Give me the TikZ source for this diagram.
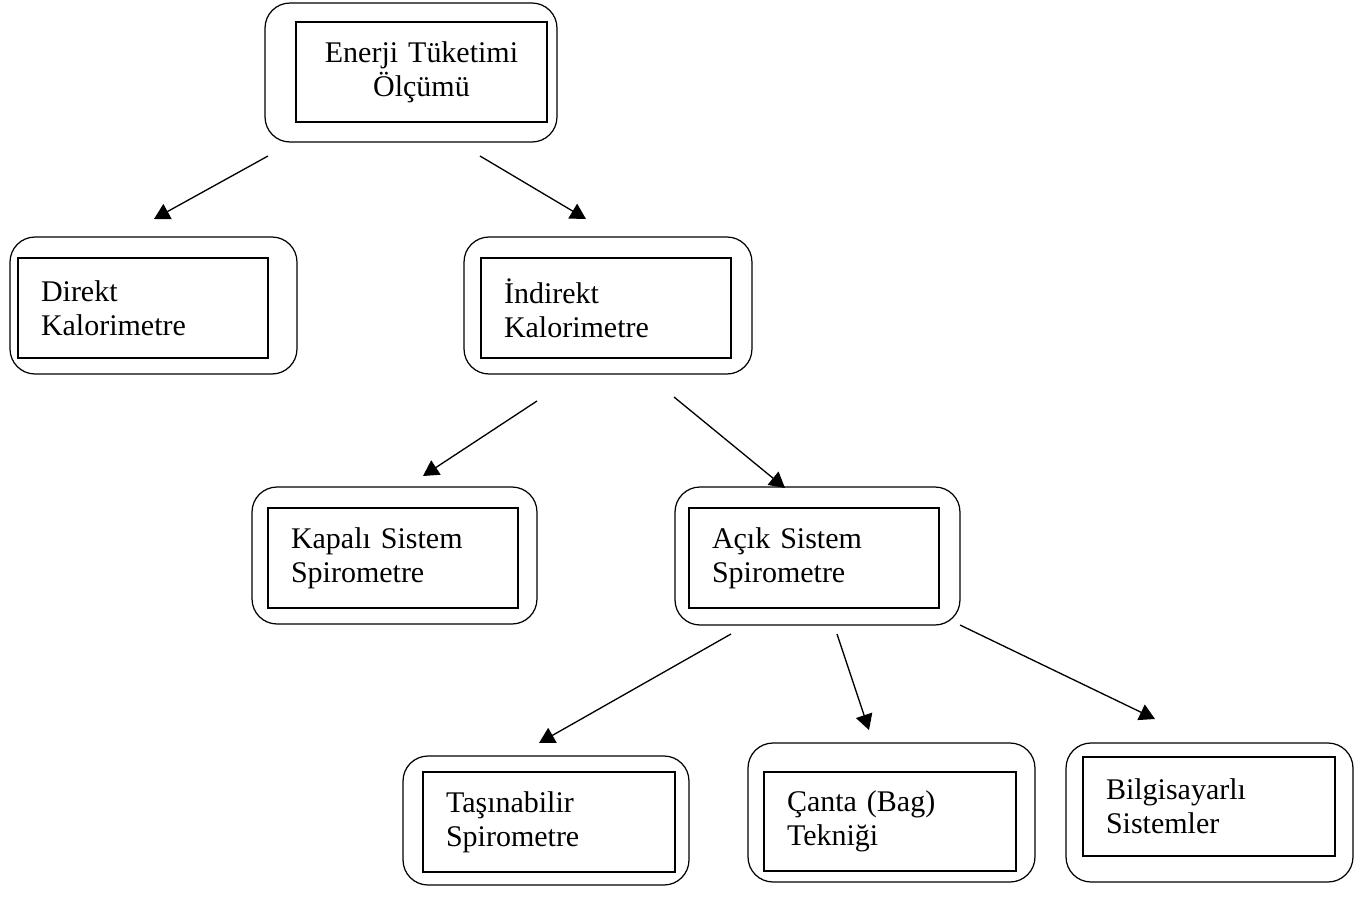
\documentclass[tikz,border=0pt]{standalone}
\usepackage{fontspec}
\setmainfont{Liberation Serif}
\usetikzlibrary{arrows.meta}
\tikzset{
    % Outer frame with rounded corners
    frame/.style={
        rectangle,
        draw=black,
        line width=0.7pt,
        rounded corners=0.5cm,
        minimum width=5.74cm,
        minimum height=2.74cm
    },
    % Inner box holding the text
    label box/.style={
        rectangle,
        draw=black,
        line width=0.9pt,
        text width=4.08cm,
        inner xsep=0.46cm,
        inner ysep=0pt,
        minimum height=2cm,
        align=left,
        font=\fontsize{17.07pt}{19.35pt}\selectfont
    },
    arrow style/.style={
        -{Triangle[length=0.31cm,width=0.34cm]},
        line width=0.75pt,
        black
    }
}

\begin{document}
\begin{tikzpicture}[x=0.02cm, y=-0.02cm]
        \useasboundingbox (0,0) rectangle (1359,896);

        % Top
        \node[frame, minimum width=5.84cm, minimum height=2.78cm] (enerjiOut) at (411,72.5) {};
        \node[label box, align=center, text width=4.1cm] (enerji) at (421.5,72) {Enerji Tüketimi\\Ölçümü};

        % Level 2
        \node[frame] (direktOut) at (153.5,305.5) {};
        \node[label box] (direkt) at (143,308) {Direkt\\Kalorimetre};

        \node[frame, minimum width=5.76cm] (indirektOut) at (608,305.5) {};
        \node[label box] (indirekt) at (606,308) {İndirekt\\Kalorimetre};

        % Level 3
        \node[frame, minimum width=5.7cm] (kapaliOut) at (394.5,555.5) {};
        \node[label box] (kapali) at (393,558) {Kapalı Sistem\\Spirometre};

        \node[frame, minimum width=5.7cm, minimum height=2.76cm] (acikOut) at (817.5,556) {};
        \node[label box] (acik) at (814,558) {Açık Sistem\\Spirometre};

        % Level 4
        \node[frame, minimum width=5.72cm, minimum height=2.58cm] (tasinabilirOut) at (546,820.5) {};
        \node[label box, text width=4.12cm] (tasinabilir) at (549,822) {Taşınabilir\\Spirometre};

        \node[frame, minimum height=2.78cm] (cantaOut) at (891.5,812.5) {};
        \node[label box, text width=4.12cm, minimum height=1.98cm] (canta) at (890,821.5) {Çanta (Bag)\\Tekniği};

        \node[frame, minimum height=2.78cm] (bilgisayarOut) at (1209.5,812.5) {};
        \node[label box, text width=4.12cm, minimum height=1.98cm] (bilgisayar) at (1209,806.5) {Bilgisayarlı\\Sistemler};

        % Arrow ends
        \coordinate (enerjiL) at (268,156);
        \coordinate (enerjiR) at (480,156);
        \coordinate (direktTop) at (154,219);
        \coordinate (indirektTop) at (586,219);
        \coordinate (indirektL) at (537,401);
        \coordinate (indirektR) at (674,397);
        \coordinate (kapaliTop) at (423,476);
        \coordinate (acikTop) at (785,488);
        \coordinate (acikL) at (731,634);
        \coordinate (acikM) at (837,634);
        \coordinate (acikR) at (960,625);
        \coordinate (tasinabilirTop) at (539,743);
        \coordinate (cantaTop) at (869,730);
        \coordinate (bilgisayarTop) at (1155,719);

        % Arrows
        \draw[arrow style] (enerjiL) -- (direktTop);
        \draw[arrow style] (enerjiR) -- (indirektTop);
        \draw[arrow style] (indirektL) -- (kapaliTop);
        \draw[arrow style] (indirektR) -- (acikTop);
        \draw[arrow style] (acikL) -- (tasinabilirTop);
        \draw[arrow style] (acikM) -- (cantaTop);
        \draw[arrow style] (acikR) -- (bilgisayarTop);
    \end{tikzpicture}
\end{document}
